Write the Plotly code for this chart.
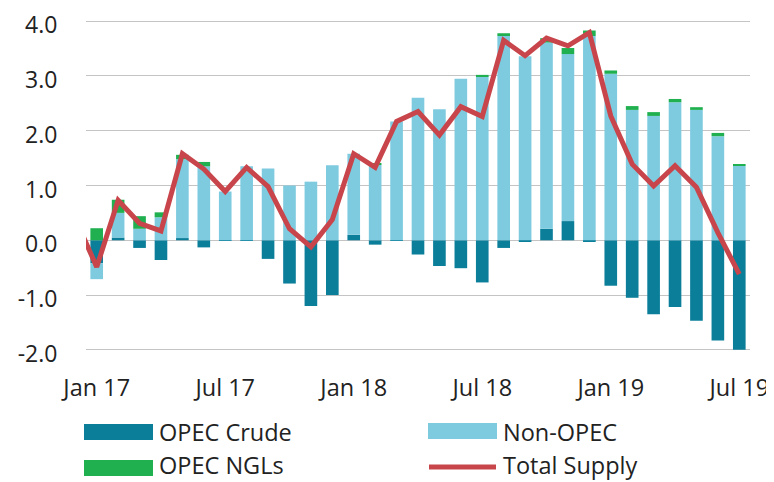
import plotly.graph_objects as go

months = ["Jan 17", "Feb 17", "Mar 17", "Apr 17", "May 17", "Jun 17", "Jul 17", "Aug 17",
          "Sep 17", "Oct 17", "Nov 17", "Dec 17", "Jan 18", "Feb 18", "Mar 18", "Apr 18",
          "May 18", "Jun 18", "Jul 18", "Aug 18", "Sep 18", "Oct 18", "Nov 18", "Dec 18",
          "Jan 19", "Feb 19", "Mar 19", "Apr 19", "May 19", "Jun 19", "Jul 19"]
line_months = ["Dec 16"] + months

opec_crude = [-0.42, 0.05, -0.14, -0.36, 0.04, -0.13, -0.01, -0.01, -0.34, -0.79, -1.20, -1.00,
              0.10, -0.08, -0.01, -0.26, -0.47, -0.51, -0.77, -0.14, -0.03, 0.21, 0.35, -0.03,
              -0.83, -1.05, -1.35, -1.22, -1.47, -1.83, -2.00]
non_opec = [-0.29, 0.45, 0.21, 0.42, 1.44, 1.35, 0.89, 1.35, 1.31, 1.00, 1.07, 1.37,
            1.48, 1.38, 2.17, 2.60, 2.39, 2.95, 2.99, 3.73, 3.36, 3.40, 3.05, 3.73,
            3.04, 2.38, 2.27, 2.52, 2.38, 1.90, 1.36]
opec_ngls = [0.22, 0.24, 0.23, 0.09, 0.08, 0.08, 0.0, 0.0, 0.0, 0.0, 0.0, 0.0,
             0.0, 0.03, 0.0, 0.0, 0.0, 0.0, 0.03, 0.05, 0.0, 0.08, 0.11, 0.10,
             0.06, 0.07, 0.07, 0.06, 0.05, 0.06, 0.02]
total_supply = [0.40, -0.49, 0.73, 0.31, 0.17, 1.58, 1.30, 0.89, 1.33, 0.98, 0.21, -0.12, 0.38,
                1.58, 1.33, 2.17, 2.35, 1.92, 2.44, 2.26, 3.65, 3.37, 3.69, 3.55, 3.79,
                2.27, 1.39, 0.99, 1.36, 0.97, 0.14, -0.62]

y_ticks = [-2.0, -1.0, 0.0, 1.0, 2.0, 3.0, 4.0]
y_tick_text = ["-2.0", "-1.0", "0.0", "1.0", "2.0", "3.0", "4.0"]
x_ticks = ["Jan 17", "Jul 17", "Jan 18", "Jul 18", "Jan 19", "Jul 19"]

names = ["OPEC Crude", "Non-OPEC", "OPEC NGLs", "Total Supply"]
colors = ["#0B7E9A", "#7ECBE0", "#20B050", "#C8464B"]

FONT = "Open Sans"
FS = 23.5
TXT = "#222222"
Y_RANGE = [-2.04, 4.04]

# page body has an 8px margin; figure is sized/offset to compensate
W, H = 766, 474
L, R, T, B = 78, 24, 11, 130
PW, PH = W - L - R, H - T - B

fig = go.Figure()
for vals, nm, col in zip([opec_crude, non_opec, opec_ngls], names[:3], colors[:3]):
    fig.add_trace(go.Bar(x=months, y=vals, name=nm, marker=dict(color=col, line=dict(width=0)),
                         showlegend=False))
fig.add_trace(go.Scatter(x=line_months, y=total_supply, name=names[3], mode="lines",
                         line=dict(color=colors[3], width=5), showlegend=False))

fig.update_layout(
    width=W, height=H,
    margin=dict(l=L, r=R, t=T, b=B, pad=0),
    paper_bgcolor="white", plot_bgcolor="white",
    barmode="relative", bargap=0.41,
    font=dict(family=FONT, size=FS, color=TXT),
    xaxis=dict(type="category", categoryorder="array", categoryarray=line_months,
               range=[0.5, 31.5], tickmode="array", tickvals=x_ticks, ticktext=x_ticks,
               showgrid=False, showline=False, zeroline=False, automargin=False,
               ticks="outside", ticklen=15, tickcolor="rgba(0,0,0,0)",
               ticklabeloverflow="allow",
               tickfont=dict(family=FONT, size=FS, color=TXT)),
    # small category-boundary tick marks on the zero line
    xaxis2=dict(type="category", categoryorder="array", categoryarray=line_months,
                range=[0.5, 31.5], overlaying="x", anchor="free",
                position=(0 - Y_RANGE[0]) / (Y_RANGE[1] - Y_RANGE[0]),
                tickmode="array", tickvals=x_ticks, tickson="boundaries",
                ticks="outside", ticklen=5, tickwidth=1, tickcolor="#B0B0B0",
                showticklabels=False, showgrid=False, showline=False, zeroline=False,
                automargin=False),
    yaxis=dict(range=Y_RANGE, tickmode="array", tickvals=y_ticks, ticktext=y_tick_text,
               showgrid=True, gridcolor="#C4C4C4", gridwidth=1, automargin=False,
               zeroline=True, zerolinecolor="#C4C4C4", zerolinewidth=1,
               showline=False, ticks="outside", ticklen=23, tickcolor="rgba(0,0,0,0)",
               ticklabeloverflow="allow", ticklabelshift=4,
               tickfont=dict(family=FONT, size=23, color=TXT)),
)


def px(xv):
    return (xv - L) / PW


def py(yv):
    return (T + PH - yv) / PH


# custom legend (two columns, two rows); positions in figure pixels
legend_items = [(names[0], colors[0], "bar", 76, 424, 424),
                (names[1], colors[1], "bar", 420, 423, 424),
                (names[2], colors[2], "bar", 76, 460, 457),
                (names[3], colors[3], "line", 420, 459, 457)]
for nm, col, kind, x0, yc, ty in legend_items:
    if kind == "bar":
        fig.add_shape(type="rect", xref="paper", yref="paper",
                      x0=px(x0), x1=px(x0 + 69), y0=py(yc + 8), y1=py(yc - 8),
                      fillcolor=col, line=dict(width=0))
    else:
        fig.add_shape(type="line", xref="paper", yref="paper",
                      x0=px(x0 + 1), x1=px(x0 + 68), y0=py(yc), y1=py(yc),
                      line=dict(color=col, width=5))
    fig.add_annotation(text=nm, xref="paper", yref="paper",
                       x=px(x0 + 73), y=py(ty), xanchor="left", yanchor="middle",
                       showarrow=False, font=dict(family=FONT, size=FS, color=TXT))

fig.write_html("out.html")
